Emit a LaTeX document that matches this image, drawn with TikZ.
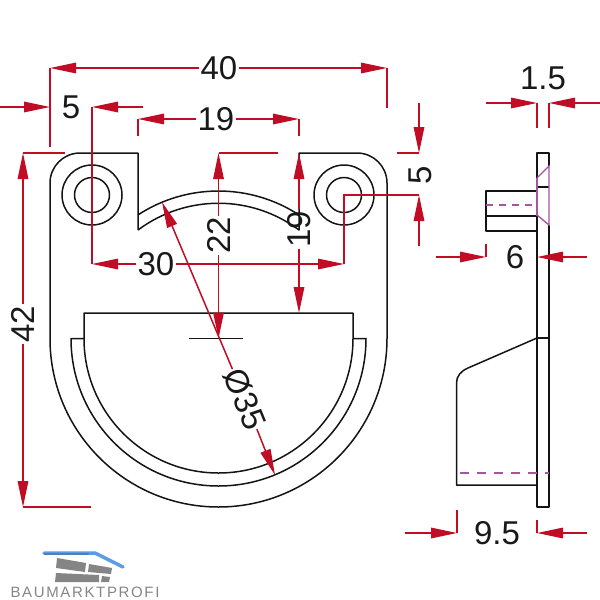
\documentclass[tikz,border=0pt]{standalone}
\usepackage{fontspec}
\setmainfont{Liberation Sans}
\usetikzlibrary{arrows.meta}
\definecolor{dimred}{HTML}{C00D25}
\definecolor{hidden}{HTML}{A6559F}
\definecolor{roofblue}{HTML}{5E9BE6}
\definecolor{roofdark}{HTML}{5A7BB0}
\definecolor{logogrey}{HTML}{858585}
\begin{document}
\begin{tikzpicture}
    [
    x=1pt,y=-1pt,
    part/.style={line width=1.5pt,draw=black!92,line join=round},
    extra/.style={line width=1.4pt,draw=hidden},
    dim/.style={line width=1.5pt,draw=dimred,line join=miter},
    tip/.style={dim,-{Triangle[length=26pt,width=10.5pt,fill=dimred]}},
    size/.style={inner sep=1pt,font=\fontsize{33}{33}\selectfont,text=black!90},
    brick/.style={fill=logogrey,draw=none}
    ]
    \useasboundingbox (0,0) rectangle (600,600);

    % front view
    \draw [part] (138,230) -- (138,153) -- (80,153) arc[start angle=-90,end angle=-180,radius=30]
      -- (50,338.5) arc[start angle=180,end angle=0,radius=168.5]
      -- (387,183) arc[start angle=0,end angle=-90,radius=30]
      -- (299,153) -- (299,230) arc[start angle=-53.24,end angle=-126.76,radius=134.5];
    \draw [part] (138,214.9) arc[start angle=-123.07,end angle=-56.93,radius=147.5];
    \draw [part] (84,338.5) -- (84,313) -- (353,313) -- (353,338.5)
      arc[start angle=0,end angle=180,radius=134.5];
    \draw [part] (84,338.5) -- (71,338.5) arc[start angle=180,end angle=0,radius=147.5] -- (353,338.5);
    \draw [part] (189,338.5) -- (243,338.5);
    \node (hole1) at (92,195) [part,circle,draw,inner sep=0pt,minimum size=60pt] {};
    \node (bore1) at (92,195) [part,circle,draw,inner sep=0pt,minimum size=35pt] {};
    \node (hole2) at (344,195) [part,circle,draw,inner sep=0pt,minimum size=60pt] {};
    \node (bore2) at (344,195) [part,circle,draw,inner sep=0pt,minimum size=35pt] {};

    % side view
    \draw [part] (537,178) -- (537,153) -- (549,153) -- (549,166);
    \draw [part] (549,225) -- (549,507) -- (537,507) -- (537,216);
    \draw [part] (537,187) -- (549,187);
    \draw [part] (537,338) -- (549,338);
    \draw [part] (537,191) -- (486,191) -- (486,231) -- (537,231);
    \draw [part] (486,216) -- (537,216);
    \draw [part] (537,338) -- (468,368) .. controls (461,371) and (456.5,376) .. (456.5,383)
      -- (456.5,485) -- (537,485);
    \draw [extra] (537,178) -- (537,216);
    \draw [extra] (537,178) -- (549,166) -- (549,225) -- (537,215);
    \draw [extra,dash pattern=on 7pt off 6pt] (486,205) -- (537,205);
    \draw [extra,dash pattern=on 9pt off 8pt] (460,473) -- (549,473);

    % 40
    \node (t40) at (219,68) [size] {40};
    \coordinate (a40) at (50,68);
    \coordinate (b40) at (387,68);
    \draw [tip] (t40) to (a40);
    \draw [tip] (t40) to (b40);
    \draw [dim] (a40) to (50,147);
    \draw [dim] (b40) to (387,108);

    % 5 left
    \node (t5a) at (71,107) [size] {5};
    \coordinate (a5) at (50,107);
    \coordinate (b5) at (92,107);
    \draw [tip] (0,107) to (a5);
    \draw [tip] (143,107) to (b5);

    % 30
    \node (t30) at (156,264) [size] {30};
    \coordinate (a30) at (92,264);
    \coordinate (b30) at (344,264);
    \draw [tip] (t30) to (a30);
    \draw [tip] (t30) to (b30);
    \draw [dim] (b5) to (a30);
    \draw [dim] (b30) -- (344,195) -- (419,195);

    % 19 top
    \node (t19a) at (216,119) [size] {19};
    \coordinate (a19) at (138,119);
    \coordinate (b19) at (299,119);
    \draw [tip] (t19a) to (a19);
    \draw [tip] (t19a) to (b19);
    \draw [dim] (a19) to (138,136);
    \draw [dim] (b19) to (299,136);

    % 5 right
    \node (t5b) at (420.5,175) [size,rotate=90] {5};
    \coordinate (c5) at (419,153);
    \coordinate (d5) at (419,195);
    \draw [tip] (419,103) to (c5);
    \draw [tip] (419,246) to (d5);
    \draw [dim] (397,153) to (c5);

    % 22
    \node (t22) at (218.5,235.5) [size,rotate=90] {22};
    \coordinate (a22) at (218.5,153);
    \coordinate (b22) at (218.5,338.5);
    \draw [tip] (t22) to (a22);
    \draw [tip] (t22) to (b22);
    \draw [dim] (a22) to (278,153);

    % 19 vertical
    \node (t19b) at (299,229) [size,rotate=90] {19};
    \coordinate (c19) at (299,153);
    \coordinate (d19) at (299,313);
    \draw [tip] (t19b) to (c19);
    \draw [tip] (t19b) to (d19);

    % 42
    \node (t42) at (23,324) [size,rotate=90] {42};
    \coordinate (a42) at (23,153);
    \coordinate (b42) at (23,507);
    \draw [tip] (t42) to (a42);
    \draw [tip] (t42) to (b42);
    \draw [dim] (a42) to (65,153);
    \draw [dim] (b42) to (91,507);

    % diameter
    \node (t35) at (245,399) [size,rotate=-67.5] {Ø35};
    \coordinate (a35) at (162,202);
    \coordinate (b35) at (275,475);
    \draw [tip] (t35) to (a35);
    \draw [tip] (t35) to (b35);

    % 1.5
    \node (t15) at (543,78) [size] {1.5};
    \coordinate (a15) at (537,103);
    \coordinate (b15) at (549,103);
    \draw [tip] (486,103) to (a15);
    \draw [tip] (600,103) to (b15);
    \draw [dim] (a15) to (537,128);
    \draw [dim] (b15) to (549,128);

    % 6
    \node (t6) at (515,257) [size] {6};
    \coordinate (a6) at (486,257);
    \coordinate (b6) at (537,257);
    \draw [tip] (436,257) to (a6);
    \draw [tip] (587,257) to (b6);
    \draw [dim] (a6) to (486,244);

    % 9.5
    \node (t95) at (497,533) [size] {9.5};
    \coordinate (a95) at (457,533);
    \coordinate (b95) at (537,533);
    \draw [tip] (405,533) to (a95);
    \draw [tip] (587,533) to (b95);
    \draw [dim] (a95) to (457,510);
    \draw [dim] (b95) to (537,520);

    % logo
    \draw [brick] (57,558) -- (86,563) -- (85,572) -- (56,568) -- cycle;
    \draw [brick] (89,564) -- (112,568) -- (111,574) -- (88,572) -- cycle;
    \draw [brick] (56,573) -- (99,575) -- (99,582) -- (55,582) -- cycle;
    \draw [brick] (102,576) -- (110,577) -- (109,582) -- (101,582) -- cycle;
    \draw [line width=3.5pt,draw=roofblue,line cap=round,line join=round] (44,553) -- (95,553) -- (123,567);
    \draw [line width=2pt,draw=roofdark,line cap=round] (45,554) -- (88,554);
    \node (brand) at (85,592.5) [inner sep=0pt,text=logogrey,font=\fontsize{15}{15}\selectfont\addfontfeature{LetterSpace=11}] {BAUMARKTPROFI};
\end{tikzpicture}
\end{document}
